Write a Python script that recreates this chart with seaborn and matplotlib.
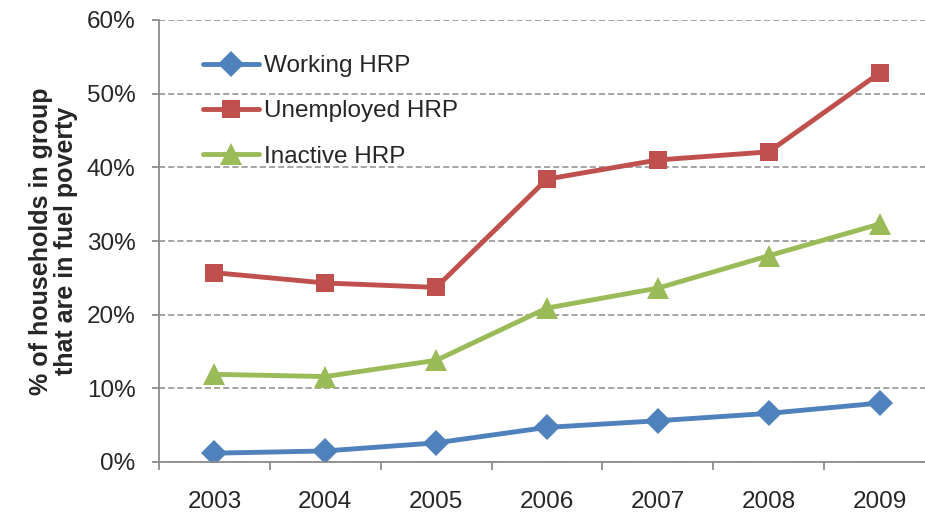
import numpy as np
import pandas as pd
import seaborn as sns
import matplotlib.pyplot as plt
from matplotlib.ticker import FuncFormatter, FixedLocator

years = ["2003", "2004", "2005", "2006", "2007", "2008", "2009"]
working = [1.2, 1.5, 2.6, 4.7, 5.6, 6.6, 8.0]
unemployed = [25.7, 24.3, 23.7, 38.4, 41.0, 42.1, 52.8]
inactive = [11.9, 11.6, 13.8, 20.9, 23.6, 28.0, 32.3]
series = ["Working HRP", "Unemployed HRP", "Inactive HRP"]
colors = ["#4F81BD", "#C0504D", "#9BBB59"]

df = pd.DataFrame({
    "year": years * 3,
    "value": working + unemployed + inactive,
    "group": sum([[s] * len(years) for s in series], []),
})

sns.set_style("white")
plt.rcParams["font.family"] = ["Liberation Sans", "DejaVu Sans"]

fig = plt.figure(figsize=(9.25, 5.14), dpi=100)
ax = fig.add_axes([159 / 925, 1 - 462 / 514, 1 - 159 / 925, 442 / 514])

sns.lineplot(data=df, x="year", y="value", hue="group", style="group",
             palette=colors, markers=["D", "s", "^"], dashes=False,
             linewidth=3.5, markersize=13, markeredgewidth=0, ax=ax)

# triangles look larger in the original
for ln in ax.lines:
    if ln.get_marker() == "^":
        ln.set_markersize(16)

ax.set_ylim(0, 60)
ax.set_xlim(-0.5, 6.41)
ax.yaxis.set_major_locator(FixedLocator(np.arange(0, 61, 10)))
ax.yaxis.set_major_formatter(FuncFormatter(lambda v, p: f"{v:.0f}%"))
ax.grid(axis="y", color="#8c8c8c", linestyle=(0, (4, 2)), linewidth=1.1)
ax.set_axisbelow(True)

for s in ["top", "right"]:
    ax.spines[s].set_visible(False)
for s in ["left", "bottom"]:
    ax.spines[s].set_color("#8c8c8c")
    ax.spines[s].set_linewidth(1.3)

ax.xaxis.set_minor_locator(FixedLocator(np.arange(-0.5, 6.6, 1)))
ax.tick_params(axis="x", which="major", length=0, pad=21, labelsize=17.5)
ax.tick_params(axis="x", which="minor", length=6, width=1.3, color="#8c8c8c",
               direction="out", bottom=True)
ax.tick_params(axis="y", length=5, width=1.3, color="#8c8c8c", direction="out",
               left=True, pad=12, labelsize=17.5)

ax.set_xlabel("")
ax.set_ylabel("% of households in group\nthat are in fuel poverty",
              fontsize=18, fontweight="bold", linespacing=1.05, labelpad=6)

handles, labels = ax.get_legend_handles_labels()
ax.legend(handles, labels, loc="upper left", bbox_to_anchor=(0.058, 0.92),
          frameon=False, fontsize=17.5, handlelength=2.3, handletextpad=0.2,
          labelspacing=0.95, borderpad=0, borderaxespad=0)

fig.savefig("out.png", dpi=100)
